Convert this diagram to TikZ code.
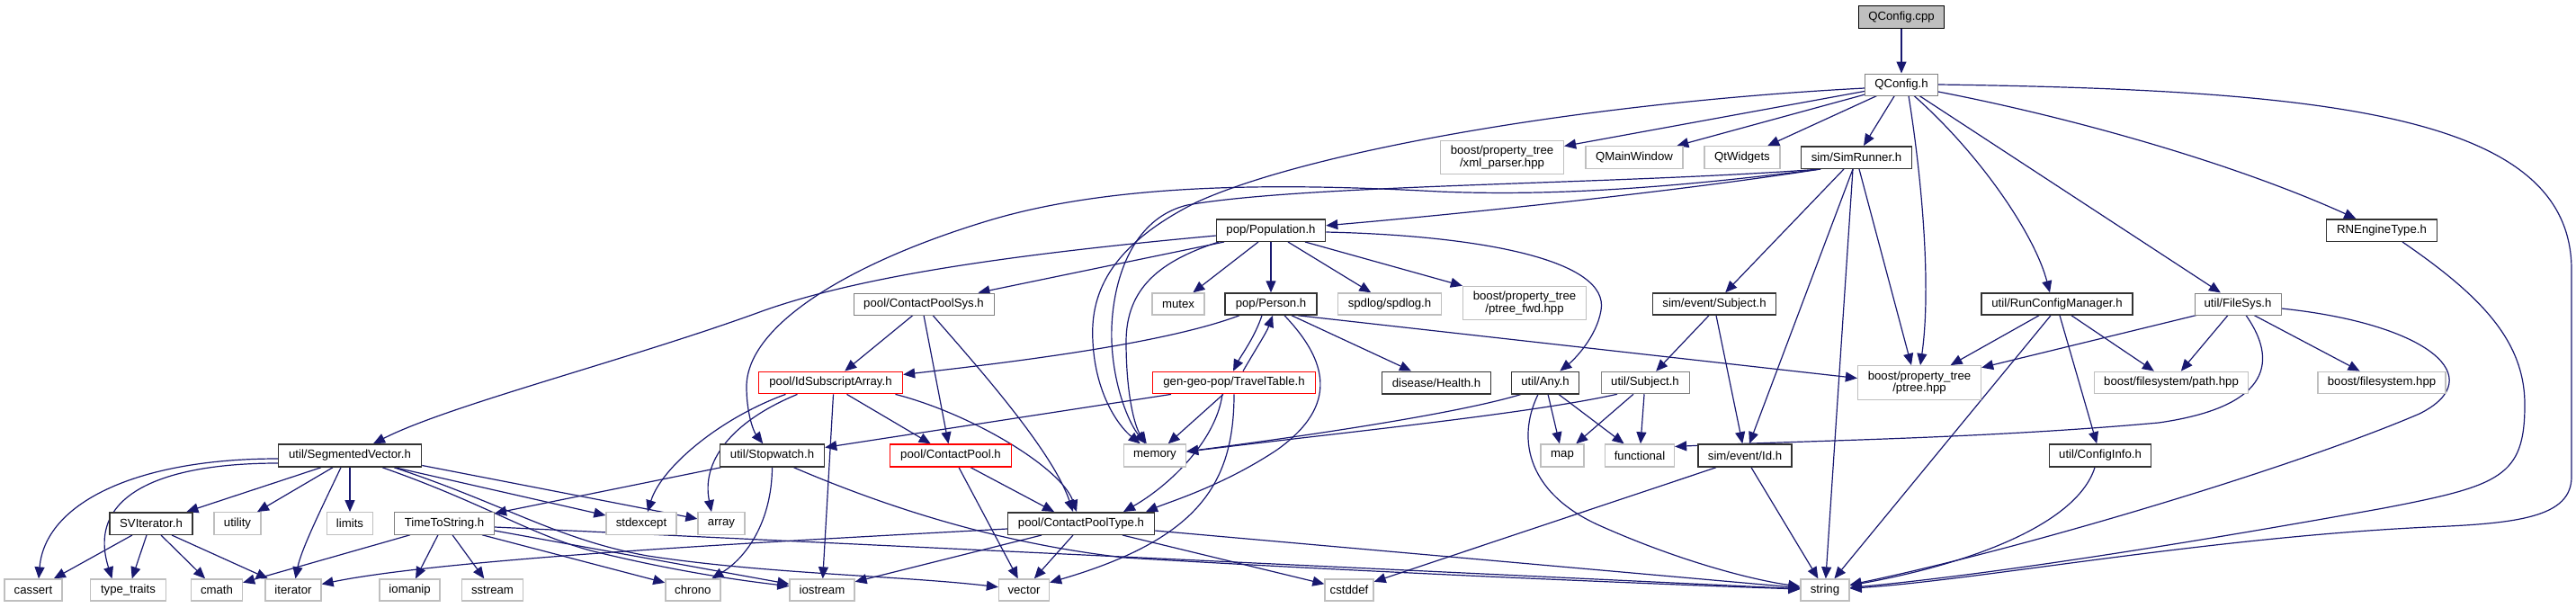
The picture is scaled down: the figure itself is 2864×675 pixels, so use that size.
\documentclass[tikz,border=0pt]{standalone}
\usepackage{fontspec}
\setmainfont{Liberation Sans}
\usetikzlibrary{arrows.meta}
\definecolor{edgec}{HTML}{191970}
\definecolor{extc}{HTML}{BFBFBF}
\definecolor{rootc}{HTML}{BFBFBF}
\pgfdeclarelayer{bg}
\pgfsetlayers{bg,main}
\tikzset{
  box/.style={rectangle, inner sep=0pt, fill=white, align=center, text=black,
    font=\fontsize{13.2pt}{13.6pt}\selectfont, minimum height=24.5pt},
  ext/.style={box, draw=extc, line width=1.3pt},
  doc/.style={box, draw=black!80, line width=1.5pt},
  docl/.style={box, draw=black!50, line width=1pt},
  redbox/.style={box, draw=red, line width=1.3pt},
  rootbox/.style={box, draw=black, fill=rootc, line width=1.4pt},
  dep/.style={draw=edgec, line width=1.2pt, -{Triangle[length=13pt,width=11pt]}},
}
\begin{document}
\begin{tikzpicture}[x=1pt,y=-1pt]
\useasboundingbox (0,0) rectangle (2864,675);
% row 1-2
\node[rootbox, minimum width=95pt, minimum height=25pt] (qcpp) at (2114,19) {QConfig.cpp};
\node[docl, minimum width=81pt, minimum height=24pt] (qh) at (2114,94) {QConfig.h};
% row 3
\node[ext, minimum width=137pt, minimum height=37pt] (xml) at (1670,175) {boost/property\_tree\\/xml\_parser.hpp};
\node[ext, minimum width=108pt] (qmw) at (1817,175) {QMainWindow};
\node[ext, minimum width=84pt] (qtw) at (1937,175) {QtWidgets};
\node[doc, minimum width=123pt] (sr) at (2064,175) {sim/SimRunner.h};
% row 4
\node[doc, minimum width=121pt] (pop) at (1413,256) {pop/Population.h};
\node[doc, minimum width=123pt] (rn) at (2648,256) {RNEngineType.h};
% row 5
\node[docl, minimum width=156pt, minimum height=24pt] (cps) at (1027,338) {pool/ContactPoolSys.h};
\node[ext, minimum width=58pt, minimum height=24pt] (mutex) at (1310,338) {mutex};
\node[doc, minimum width=102pt, minimum height=24pt] (per) at (1413,338) {pop/Person.h};
\node[ext, minimum width=115pt, minimum height=24pt] (spd) at (1545,338) {spdlog/spdlog.h};
\node[ext, minimum width=137pt, minimum height=37.5pt] (pfwd) at (1695,337) {boost/property\_tree\\/ptree\_fwd.hpp};
\node[doc, minimum width=137pt, minimum height=24pt] (ses) at (1906,338) {sim/event/Subject.h};
\node[doc, minimum width=168pt, minimum height=24pt] (rcm) at (2287,338) {util/RunConfigManager.h};
\node[docl, minimum width=96pt, minimum height=24pt] (fs) at (2488,338) {util/FileSys.h};
% row 6
\node[redbox, minimum width=160pt] (ids) at (923.5,425.5) {pool/IdSubscriptArray.h};
\node[redbox, minimum width=181pt] (tt) at (1372,425.5) {gen-geo-pop/TravelTable.h};
\node[doc, minimum width=121pt] (hlth) at (1597,425.5) {disease/Health.h};
\node[doc, minimum width=75pt] (any) at (1718,425.5) {util/Any.h};
\node[docl, minimum width=98pt] (us) at (1829,425.5) {util/Subject.h};
\node[ext, minimum width=137pt, minimum height=37.6pt] (ptree) at (2134,425.5) {boost/property\_tree\\/ptree.hpp};
\node[ext, minimum width=171pt] (path) at (2414,425.5) {boost/filesystem/path.hpp};
\node[ext, minimum width=142pt] (fsh) at (2648,425.5) {boost/filesystem.hpp};
% row 7
\node[doc, minimum width=159pt, minimum height=25pt] (sv) at (389,506.5) {util/SegmentedVector.h};
\node[doc, minimum width=116pt, minimum height=25pt] (sw) at (858.5,506.5) {util/Stopwatch.h};
\node[redbox, minimum width=134.5pt, minimum height=25pt] (cp) at (1057,506.5) {pool/ContactPool.h};
\node[ext, minimum width=69pt, minimum height=25pt] (mem) at (1284,506.5) {memory};
\node[ext, minimum width=48pt, minimum height=25pt] (map) at (1737,506.5) {map};
\node[ext, minimum width=77pt, minimum height=25pt] (func) at (1823,506.5) {functional};
\node[doc, minimum width=104pt, minimum height=25pt] (id) at (1940,506.5) {sim/event/Id.h};
\node[doc, minimum width=113pt, minimum height=25pt] (ci) at (2335,506.5) {util/ConfigInfo.h};
% row 8
\node[doc, minimum width=92pt] (svi) at (168,582) {SVIterator.h};
\node[ext, minimum width=52pt] (util) at (264,582) {utility};
\node[ext, minimum width=51pt] (lim) at (389,582) {limits};
\node[docl, minimum width=111pt] (tts) at (494,582) {TimeToString.h};
\node[ext, minimum width=78pt] (stdx) at (713,582) {stdexcept};
\node[ext, minimum width=52pt] (arr) at (802,582) {array};
\node[doc, minimum width=163pt] (cpt) at (1202,582) {pool/ContactPoolType.h};
% row 9
\node[ext, minimum width=64pt, minimum height=24pt] (cas) at (37,656) {cassert};
\node[ext, minimum width=83.5pt, minimum height=24pt] (tytr) at (142.5,656) {type\_traits};
\node[ext, minimum width=57pt, minimum height=24pt] (cmath) at (241,656) {cmath};
\node[ext, minimum width=62pt, minimum height=24pt] (iter) at (326,656) {iterator};
\node[ext, minimum width=67pt, minimum height=24pt] (iom) at (455.6,656) {iomanip};
\node[ext, minimum width=68pt, minimum height=24pt] (sst) at (547.5,656) {sstream};
\node[ext, minimum width=61pt, minimum height=24pt] (chr) at (770.4,656) {chrono};
\node[ext, minimum width=72pt, minimum height=24pt] (ios) at (914,656) {iostream};
\node[ext, minimum width=56pt, minimum height=24pt] (vec) at (1138.5,656) {vector};
\node[ext, minimum width=54pt, minimum height=24pt] (cstd) at (1500,656) {cstddef};
\node[ext, minimum width=54pt, minimum height=24pt] (str) at (2029,656) {string};

\begin{pgfonlayer}{bg}
% QConfig.cpp / QConfig.h
\draw[dep] (qcpp) -- (qh);
\draw[dep] (qh) -- (xml);
\draw[dep] (qh) -- (qmw);
\draw[dep] (qh) -- (qtw);
\draw[dep] (qh) -- (sr);
\draw[dep] ([yshift=-4pt]qh.west) .. controls (1750,115) and (1450,170) .. (1330,225) .. controls (1230,275) and (1212,330) .. (1215,380) .. controls (1218,440) and (1245,475) .. (mem);
\draw[dep] ([xshift=8pt]qh.south) .. controls (2140,220) and (2146,330) .. ([xshift=1pt]ptree.north);
\draw[dep] ([xshift=14pt]qh.south) .. controls (2200,170) and (2262,260) .. ([xshift=-8pt]rcm.north);
\draw[dep] ([xshift=20pt]qh.south) -- (fs);
\draw[dep] ([yshift=-8pt]qh.east) .. controls (2300,130) and (2480,180) .. (rn);
\draw[dep] (qh.east) .. controls (2600,100) and (2859,130) .. (2859,300) -- (2859,530) .. controls (2859,575) and (2800,582) .. (2700,586) .. controls (2450,598) and (2200,645) .. (str);
% SimRunner
\draw[dep] ([xshift=-40pt]sr.south) .. controls (1850,215) and (1600,240) .. (pop);
\draw[dep] ([xshift=-40pt]sr.south) .. controls (1800,205) and (1450,205) .. (1320,228) .. controls (1250,245) and (1234,330) .. (1236,380) .. controls (1238,430) and (1255,470) .. (mem);
\draw[dep] ([xshift=-40pt]sr.south) .. controls (1850,210) and (1720,218) .. (1600,213) .. controls (1450,205) and (1250,200) .. (1100,245) .. controls (950,290) and (830,360) .. (830,430) .. controls (830,460) and (838,480) .. (sw);
\draw[dep] ([xshift=-14pt]sr.south) -- (ses);
\draw[dep] ([xshift=-4pt]sr.south) -- (id);
\draw[dep] ([xshift=-4pt]sr.south) -- (str);
\draw[dep] ([xshift=3pt]sr.south) -- ([xshift=-9pt]ptree.north);
% Population
\draw[dep] ([yshift=-6pt]pop.west) .. controls (1100,285) and (950,310) .. (850,345) .. controls (700,400) and (500,450) .. (sv);
\draw[dep] ([xshift=-52pt]pop.south) -- (cps);
\draw[dep] ([xshift=-58pt]pop.south) .. controls (1290,290) and (1252,320) .. (1252,380) .. controls (1252,440) and (1262,475) .. (mem);
\draw[dep] ([xshift=-14pt]pop.south) -- (mutex);
\draw[dep] (pop) -- (per);
\draw[dep] ([xshift=19pt]pop.south) -- (spd);
\draw[dep] ([xshift=38pt]pop.south) -- (pfwd);
\draw[dep] ([yshift=-2pt]pop.east) .. controls (1650,262) and (1790,290) .. (1780,345) .. controls (1775,375) and (1750,400) .. (any);
% Person
\draw[dep] ([xshift=-35pt]per.south) .. controls (1300,380) and (1150,400) .. (ids);
\draw[dep] ([xshift=-10pt]per.south) .. controls (1395,375) and (1380,395) .. ([xshift=-1pt]tt.north);
\draw[dep] ([xshift=10pt]tt.north) .. controls (1395,390) and (1408,370) .. ([xshift=2pt]per.south);
\draw[dep] ([xshift=15pt]per.south) .. controls (1475,400) and (1490,450) .. (1420,500) .. controls (1360,540) and (1300,558) .. ([xshift=72pt]cpt.north);
\draw[dep] ([xshift=23pt]per.south) -- (hlth);
\draw[dep] ([xshift=30pt]per.south) -- ([yshift=5pt]ptree.west);
% TravelTable
\draw[dep] ([xshift=-70pt]tt.south) -- ([yshift=9pt]sw.east);
\draw[dep] ([xshift=-12pt]tt.south) -- (mem);
\draw[dep] ([xshift=-13pt]tt.south) .. controls (1352,490) and (1300,540) .. ([xshift=47pt]cpt.north);
\draw[dep] (tt.south) .. controls (1372,540) and (1330,600) .. (vec);
% ContactPoolSys
\draw[dep] ([xshift=-12pt]cps.south) -- (ids);
\draw[dep] (cps.south) -- (cp);
\draw[dep] ([xshift=10pt]cps.south) .. controls (1080,400) and (1170,500) .. ([xshift=-9pt]cpt.north);
% IdSubscriptArray
\draw[dep] ([xshift=18pt]ids.south) -- (cp);
\draw[dep] ([xshift=72pt]ids.south) .. controls (1080,460) and (1180,520) .. ([xshift=-5pt]cpt.north);
\draw[dep] ([xshift=3pt]ids.south) -- (ios);
\draw[dep] ([xshift=-50pt]ids.south) .. controls (800,465) and (735,520) .. ([xshift=7pt]stdx.north);
\draw[dep] ([xshift=-37pt]ids.south) .. controls (810,470) and (780,515) .. ([xshift=-11pt]arr.north);
% ContactPool
\draw[dep] ([xshift=22pt]cp.south) -- ([xshift=-30pt]cpt.north);
\draw[dep] ([xshift=9pt]cp.south) -- (vec);
% ContactPoolType
\draw[dep] ([yshift=-6pt]cpt.west) .. controls (900,600) and (500,620) .. (iter);
\draw[dep] ([xshift=-44pt]cpt.south) -- (ios);
\draw[dep] ([xshift=-9pt]cpt.south) -- (vec);
\draw[dep] ([xshift=46pt]cpt.south) -- (cstd);
\draw[dep] ([yshift=-8pt]cpt.east) -- (str);
% Stopwatch
\draw[dep] ([xshift=-57pt]sw.south) -- (tts);
\draw[dep] (sw.south) .. controls (858,580) and (830,620) .. (chr);
\draw[dep] ([xshift=24pt]sw.south) .. controls (1000,570) and (1120,605) .. (1250,620) .. controls (1500,635) and (1800,648) .. (str);
% TimeToString
\draw[dep] ([xshift=-38pt]tts.south) -- (cmath);
\draw[dep] ([xshift=-7pt]tts.south) -- (iom);
\draw[dep] ([xshift=9pt]tts.south) -- (sst);
\draw[dep] ([xshift=42pt]tts.south) -- (chr);
\draw[dep] ([yshift=-8pt]tts.east) -- (ios);
\draw[dep] ([yshift=-4pt]tts.east) -- (str);
% SegmentedVector
\draw[dep] ([xshift=-32pt]sv.south) -- (svi);
\draw[dep] ([xshift=-19pt]sv.south) -- (util);
\draw[dep] ([xshift=-10pt]sv.south) .. controls (360,560) and (335,610) .. (iter);
\draw[dep] (sv) -- (lim);
\draw[dep] ([yshift=-3.5pt]sv.west) .. controls (150,510) and (50,560) .. ([xshift=6pt]cas.north);
\draw[dep] ([yshift=-8.5pt]sv.west) .. controls (180,515) and (95,550) .. ([xshift=-18pt]tytr.north);
\draw[dep] ([xshift=50pt]sv.south) -- (stdx);
\draw[dep] ([yshift=-11pt]sv.east) -- (arr);
\draw[dep] ([xshift=36pt]sv.south) .. controls (540,560) and (590,595) .. (660,613) .. controls (750,635) and (820,645) .. (ios);
\draw[dep] ([xshift=49pt]sv.south) .. controls (560,560) and (620,600) .. (720,618) .. controls (850,638) and (1000,640) .. (vec);
% SVIterator
\draw[dep] ([xshift=-21pt]svi.south) -- (cas);
\draw[dep] ([xshift=-5pt]svi.south) -- (tytr);
\draw[dep] ([xshift=11pt]svi.south) -- (cmath);
\draw[dep] ([xshift=23pt]svi.south) -- (iter);
% util/Any.h
\draw[dep] ([xshift=-27pt]any.south) .. controls (1620,460) and (1450,485) .. (mem);
\draw[dep] (any) -- (map);
\draw[dep] ([xshift=15pt]any.south) -- (func);
\draw[dep] ([xshift=-8pt]any.south) .. controls (1685,490) and (1700,550) .. (1780,585) .. controls (1870,625) and (1950,645) .. (str);
% util/Subject.h
\draw[dep] ([xshift=-31pt]us.south) .. controls (1700,460) and (1500,480) .. (mem);
\draw[dep] ([xshift=-13pt]us.south) -- (map);
\draw[dep] (us) -- (func);
% sim/event/Subject.h
\draw[dep] ([xshift=-6pt]ses.south) -- (us);
\draw[dep] ([xshift=2pt]ses.south) -- (id);
% sim/event/Id.h
\draw[dep] ([xshift=-32pt]id.south) -- (cstd);
\draw[dep] ([xshift=7pt]id.south) -- (str);
% RunConfigManager
\draw[dep] ([xshift=-20pt]rcm.south) -- (ptree);
\draw[dep] ([xshift=-7pt]rcm.south) -- (str);
\draw[dep] ([xshift=16pt]rcm.south) -- (path);
\draw[dep] ([xshift=3pt]rcm.south) -- (ci);
% FileSys
\draw[dep] ([xshift=-46pt]fs.south) -- (ptree);
\draw[dep] ([xshift=-11pt]fs.south) -- (path);
\draw[dep] ([xshift=18pt]fs.south) -- (fsh);
\draw[dep] ([xshift=9pt]fs.south) .. controls (2525,390) and (2540,450) .. (2400,470) .. controls (2200,488) and (2000,490) .. ([yshift=10pt]func.east);
\draw[dep] ([yshift=-5pt]fs.east) .. controls (2700,360) and (2770,420) .. (2690,460) .. controls (2550,520) and (2250,610) .. (str);
% RNEngineType
\draw[dep] ([xshift=23pt]rn.south) .. controls (2760,330) and (2807,380) .. (2807,450) .. controls (2807,530) and (2780,540) .. (2650,565) .. controls (2400,610) and (2200,640) .. (str);
% ConfigInfo
\draw[dep] ([xshift=-6pt]ci.south) .. controls (2310,580) and (2200,625) .. (str);
\end{pgfonlayer}
\end{tikzpicture}
\end{document}
